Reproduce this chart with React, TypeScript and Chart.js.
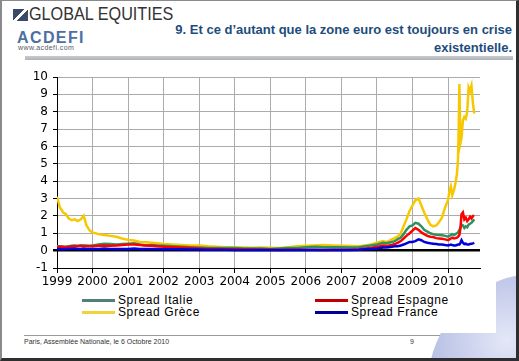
import React, { useEffect, useRef } from "react";
import { Chart, registerables } from "chart.js";

Chart.register(...registerables);

// decimal-year dates shared by all series
const dates: number[] = [
  1999.0, 1999.08, 1999.17, 1999.25, 1999.33, 1999.42, 1999.5, 1999.58, 1999.67, 1999.75, 1999.83, 1999.92,
  2000.0, 2000.17, 2000.33, 2000.5, 2000.67, 2000.83,
  2001.0, 2001.17, 2001.33, 2001.5, 2001.67, 2001.83,
  2002.0, 2002.25, 2002.5, 2002.75,
  2003.0, 2003.25, 2003.5, 2003.75,
  2004.0, 2004.25, 2004.5, 2004.75,
  2005.0, 2005.25, 2005.5, 2005.75,
  2006.0, 2006.25, 2006.5, 2006.75,
  2007.0, 2007.25, 2007.5, 2007.67, 2007.83,
  2008.0, 2008.08, 2008.17, 2008.25, 2008.33, 2008.42, 2008.5, 2008.58, 2008.67, 2008.75, 2008.83, 2008.92,
  2009.0, 2009.08, 2009.17, 2009.25, 2009.33, 2009.42, 2009.5, 2009.58, 2009.67, 2009.75, 2009.83, 2009.92,
  2010.0, 2010.04, 2010.08, 2010.12, 2010.17, 2010.21, 2010.25, 2010.28, 2010.3, 2010.32, 2010.35, 2010.38,
  2010.42, 2010.46, 2010.5, 2010.54, 2010.58, 2010.62, 2010.66, 2010.7, 2010.74,
];

const spreadGrece: number[] = [
  3.1, 2.5, 2.2, 2.1, 1.85, 1.75, 1.8, 1.7, 1.8, 2.0, 1.45, 1.15,
  1.05, 0.95, 0.9, 0.85, 0.8, 0.7,
  0.62, 0.58, 0.5, 0.48, 0.45, 0.42,
  0.38, 0.35, 0.32, 0.3,
  0.3, 0.25, 0.22, 0.2,
  0.2, 0.18, 0.17, 0.18,
  0.17, 0.15, 0.2, 0.25,
  0.28, 0.3, 0.32, 0.3,
  0.28, 0.27, 0.25, 0.3, 0.35,
  0.45, 0.5, 0.55, 0.5, 0.55, 0.65, 0.72, 0.8, 1.0, 1.4, 1.8, 2.3,
  2.6, 2.9, 3.0, 2.6, 2.2, 1.8, 1.5, 1.4, 1.45, 1.65, 1.9, 2.5,
  2.9, 3.4, 3.7, 3.2, 3.5, 3.9, 4.4, 5.2, 7.0, 9.6, 6.2, 6.5,
  7.5, 7.7, 7.6, 8.0, 9.4, 9.2, 9.5, 8.5, 7.9,
];

const spreadItalie: number[] = [
  0.25, 0.25, 0.22, 0.22, 0.25, 0.28, 0.3, 0.28, 0.3, 0.3, 0.3, 0.28,
  0.3, 0.35, 0.4, 0.38, 0.35, 0.38,
  0.4, 0.42, 0.35, 0.3, 0.32, 0.3,
  0.28, 0.25, 0.22, 0.2,
  0.18, 0.15, 0.15, 0.15,
  0.15, 0.12, 0.12, 0.12,
  0.1, 0.12, 0.15, 0.15,
  0.2, 0.22, 0.2, 0.2,
  0.2, 0.18, 0.2, 0.25, 0.3,
  0.35, 0.4, 0.45, 0.42, 0.45, 0.5, 0.55, 0.65, 0.75, 0.95, 1.2, 1.4,
  1.45, 1.6, 1.55, 1.4, 1.2, 1.1, 1.0, 0.95, 0.92, 0.9, 0.88, 0.85,
  0.8, 0.85, 0.9, 0.95, 0.9, 0.95, 1.0, 1.05, 1.1, 1.2, 1.3, 1.5,
  1.45, 1.3, 1.4, 1.35, 1.5, 1.55, 1.6, 1.7, 1.8,
];

const spreadEspagne: number[] = [
  0.2, 0.22, 0.22, 0.2, 0.22, 0.25, 0.25, 0.25, 0.28, 0.27, 0.25, 0.25,
  0.25, 0.28, 0.3, 0.28, 0.3, 0.32,
  0.35, 0.35, 0.32, 0.3, 0.28, 0.25,
  0.22, 0.2, 0.18, 0.15,
  0.12, 0.1, 0.1, 0.08,
  0.08, 0.06, 0.06, 0.05,
  0.05, 0.04, 0.05, 0.05,
  0.05, 0.05, 0.04, 0.05,
  0.05, 0.05, 0.08, 0.12, 0.15,
  0.22, 0.25, 0.3, 0.28, 0.3, 0.33, 0.38, 0.45, 0.55, 0.7, 0.85, 1.0,
  1.15, 1.3, 1.2, 1.05, 0.95, 0.85, 0.8, 0.78, 0.72, 0.7, 0.68, 0.65,
  0.6, 0.65, 0.7, 0.75, 0.7, 0.72, 0.75, 0.8, 0.85, 0.9, 1.3, 2.1,
  2.2, 1.8, 1.9, 1.7, 1.8, 1.95, 1.85, 2.0, 2.0,
];

const spreadFrance: number[] = [
  0.1, 0.1, 0.08, 0.1, 0.1, 0.12, 0.12, 0.1, 0.1, 0.12, 0.1, 0.1,
  0.1, 0.1, 0.12, 0.1, 0.1, 0.1,
  0.1, 0.12, 0.1, 0.1, 0.1, 0.1,
  0.08, 0.08, 0.08, 0.07,
  0.06, 0.05, 0.05, 0.05,
  0.04, 0.04, 0.03, 0.03,
  0.03, 0.03, 0.03, 0.03,
  0.03, 0.03, 0.03, 0.03,
  0.03, 0.04, 0.05, 0.08, 0.1,
  0.12, 0.15, 0.18, 0.18, 0.2, 0.22, 0.25, 0.25, 0.3, 0.35, 0.42, 0.5,
  0.5, 0.55, 0.65, 0.6, 0.5, 0.45, 0.42, 0.4, 0.38, 0.35, 0.35, 0.32,
  0.3, 0.32, 0.35, 0.32, 0.3, 0.3, 0.32, 0.35, 0.35, 0.35, 0.45, 0.6,
  0.45, 0.38, 0.4, 0.35, 0.35, 0.38, 0.4, 0.42, 0.45,
];

const xMin = 1999;
const xMax = 2010.9;
const yMin = -1;
const yMax = 10;

const legendItems = [
  { label: "Spread Italie", color: "#4f7f78" },
  { label: "Spread Espagne", color: "#c00000" },
  { label: "Spread Grèce", color: "#f2d23c" },
  { label: "Spread France", color: "#000099" },
];

const tickFont = { family: "'DejaVu Sans', Verdana, sans-serif", size: 12 };

function SpreadChart() {
  const ref = useRef<HTMLCanvasElement | null>(null);
  useEffect(() => {
    if (!ref.current) return;
    const mk = (vals: number[]) => dates.map((d, i) => ({ x: d, y: vals[i] }));
    const chart = new Chart(ref.current, {
      type: "line",
      data: {
        datasets: [
          { label: "Spread France", data: mk(spreadFrance), borderColor: "#0000dd", borderWidth: 2.5, pointRadius: 0, tension: 0 },
          { label: "Spread Espagne", data: mk(spreadEspagne), borderColor: "#ff0000", borderWidth: 2.5, pointRadius: 0, tension: 0 },
          { label: "Spread Italie", data: mk(spreadItalie), borderColor: "#2f9060", borderWidth: 2.5, pointRadius: 0, tension: 0 },
          { label: "Spread Grèce", data: mk(spreadGrece), borderColor: "#f7c800", borderWidth: 2.5, pointRadius: 0, tension: 0 },
        ],
      },
      options: {
        animation: false,
        responsive: false,
        maintainAspectRatio: false,
        layout: { padding: { top: 15, right: 20, left: 0, bottom: 0 } },
        plugins: { legend: { display: false }, tooltip: { enabled: false } },
        scales: {
          x: {
            type: "linear",
            min: xMin,
            max: xMax,
            afterFit: (s: any) => { s.height = 24; },
            ticks: {
              stepSize: 1,
              includeBounds: false,
              autoSkip: false,
              maxRotation: 0,
              padding: 2,
              color: "#000",
              font: tickFont,
              callback: (v: any) => String(v),
            },
            grid: { color: "#ababab", lineWidth: 1, tickColor: "#000", tickLength: 5 },
            border: { color: "#000", width: 1 },
          },
          y: {
            min: yMin,
            max: yMax,
            afterFit: (s: any) => { s.width = 57; },
            ticks: {
              stepSize: 1,
              autoSkip: false,
              padding: 5,
              color: "#000",
              font: tickFont,
              callback: (v: any) => String(v),
            },
            grid: {
              color: (c: any) => (c.tick && c.tick.value === 0 ? "#000" : "#ababab"),
              lineWidth: (c: any) => (c.tick && c.tick.value === 0 ? 2.5 : 1),
              tickColor: "#000",
              tickLength: 4,
            },
            border: { color: "#000", width: 1 },
          },
        },
      },
    } as any);
    return () => chart.destroy();
  }, []);
  return (
    <canvas
      ref={ref}
      width={500}
      height={230}
      style={{ position: "absolute", left: 0, top: 62, width: 500, height: 230 }}
    />
  );
}

export default function App() {
  const titleColor = "#1d4c7c";
  return (
    <div
      style={{
        position: "absolute",
        left: 0,
        top: 0,
        width: 519,
        height: 361,
        overflow: "hidden",
        background: "#fff",
        boxSizing: "border-box",
        fontFamily: "'Liberation Sans', Arial, sans-serif",
      }}
    >
      {/* globe */}
      <div
        style={{
          position: "absolute",
          left: 428,
          top: 273,
          width: 224,
          height: 224,
          borderRadius: "50%",
          background: "radial-gradient(circle at 35% 30%, #e3e7f7 0%, #b3bce3 40%, #8894cd 75%, #7482c2 100%)",
        }}
      />
      {/* chart white box */}
      <div style={{ position: "absolute", left: 18, top: 62, width: 478, height: 271, background: "#fff" }} />

      {/* header logo */}
      <div
        style={{
          position: "absolute",
          left: 13,
          top: 9,
          width: 15,
          height: 12,
          background: "linear-gradient(135deg, #3b4a68 0%, #3b4a68 42%, #ffffff 44%, #ffffff 56%, #3b4a68 58%, #3b4a68 100%)",
        }}
      />
      <div
        style={{
          position: "absolute",
          left: 29,
          top: 3,
          fontSize: 18,
          color: "#333",
          whiteSpace: "nowrap",
          transform: "scaleX(0.9)",
          transformOrigin: "left top",
          lineHeight: "22px",
        }}
      >
        GLOBAL EQUITIES
      </div>
      <div
        style={{
          position: "absolute",
          left: 17,
          top: 29,
          fontSize: 16,
          fontWeight: "bold",
          color: "#4d6fa3",
          letterSpacing: 1.4,
          lineHeight: "17px",
          whiteSpace: "nowrap",
        }}
      >
        ACDEFI
      </div>
      <div
        style={{
          position: "absolute",
          left: 18,
          top: 44,
          fontSize: 7,
          color: "#555a66",
          letterSpacing: 0.4,
          lineHeight: "8px",
          whiteSpace: "nowrap",
        }}
      >
        www.acdefi.com
      </div>

      {/* title */}
      <div
        style={{
          position: "absolute",
          right: 7,
          top: 21,
          width: 360,
          textAlign: "right",
          fontSize: 13,
          fontWeight: "bold",
          color: titleColor,
          lineHeight: "18px",
          letterSpacing: 0,
          whiteSpace: "nowrap",
        }}
      >
        <div>9. Et ce d’autant que la zone euro est toujours en crise</div>
        <div>existentielle.</div>
      </div>

      {/* gray band */}
      <div
        style={{
          position: "absolute",
          left: 25,
          top: 56,
          width: 488,
          height: 4,
          background: "linear-gradient(#c9cccf, #aeb2b6)",
        }}
      />

      <SpreadChart />

      {/* legend */}
      {legendItems.map((it, i) => {
        const col = i % 2;
        const row = Math.floor(i / 2);
        const left = col === 0 ? 82 : 315;
        const top = 300 + row * 12;
        return (
          <div key={it.label} style={{ position: "absolute", left, top: top - 7, height: 14, whiteSpace: "nowrap" }}>
            <div style={{ position: "absolute", left: 0, top: 6, width: 33, height: 3, background: it.color }} />
            <div
              style={{
                position: "absolute",
                left: 36,
                top: 0,
                fontSize: 12,
                lineHeight: "14px",
                letterSpacing: 0.6,
                color: "#000",
              }}
            >
              {it.label}
            </div>
          </div>
        );
      })}

      {/* footer */}
      <div style={{ position: "absolute", left: 24, top: 335, width: 416, height: 1, background: "#9a9a9a" }} />
      <div
        style={{
          position: "absolute",
          left: 24,
          top: 338,
          fontSize: 7,
          color: "#333",
          lineHeight: "8px",
          whiteSpace: "nowrap",
        }}
      >
        Paris, Assemblée Nationale, le 6 Octobre 2010
      </div>
      <div style={{ position: "absolute", left: 410, top: 338, fontSize: 7, color: "#333", lineHeight: "8px" }}>9</div>

      {/* frame */}
      <div
        style={{
          position: "absolute",
          left: 0,
          top: 0,
          width: 519,
          height: 361,
          boxSizing: "border-box",
          borderLeft: "2px solid #8a8a8a",
          borderTop: "1px solid #8a8a8a",
          borderRight: "3px solid #2e2e2e",
          borderBottom: "3px solid #2e2e2e",
          pointerEvents: "none",
        }}
      />
    </div>
  );
}
